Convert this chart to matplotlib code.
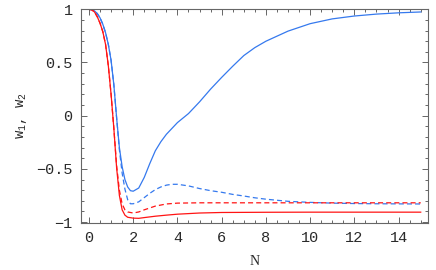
import matplotlib
matplotlib.use("Agg")
import matplotlib.pyplot as plt
from matplotlib.ticker import MultipleLocator

plt.rcParams['mathtext.fontset'] = 'custom'
plt.rcParams['mathtext.rm'] = 'Liberation Mono'
plt.rcParams['mathtext.it'] = 'Liberation Mono'

# Data
x_red = [0, 0.125, 0.25, 0.375, 0.5, 0.625, 0.75, 0.875, 1.0, 1.125, 1.25, 1.375, 1.5,
         1.625, 1.75, 2.0, 2.25, 2.5, 3.0, 3.5, 4.0, 5.0, 6.0, 8.0, 10.0, 12.0, 15.0]
red_solid = [1.0, 0.995, 0.975, 0.93, 0.87, 0.79, 0.67, 0.47, 0.20, -0.12, -0.49, -0.75, -0.885,
             -0.935, -0.955, -0.963, -0.965, -0.958, -0.945, -0.935, -0.926, -0.915, -0.91,
             -0.908, -0.907, -0.907, -0.907]
red_dashed = [1.0, 0.995, 0.975, 0.93, 0.87, 0.79, 0.67, 0.47, 0.20, -0.12, -0.47, -0.70, -0.83,
              -0.885, -0.905, -0.915, -0.905, -0.885, -0.85, -0.83, -0.822, -0.819, -0.819,
              -0.819, -0.819, -0.819, -0.819]

x_blue = [0, 0.125, 0.25, 0.375, 0.5, 0.625, 0.75, 0.875, 1.0, 1.125, 1.25, 1.375, 1.5,
          1.625, 1.75, 1.875, 2.0, 2.25, 2.5, 2.75, 3.0, 3.25, 3.5, 3.75, 4.0, 4.5, 5.0,
          5.5, 6.0, 6.5, 7.0, 7.5, 8.0, 9.0, 10.0, 11.0, 12.0, 13.0, 14.0, 15.0]
blue_solid = [1.0, 0.997, 0.985, 0.96, 0.92, 0.86, 0.78, 0.67, 0.52, 0.29, -0.02, -0.30, -0.48,
              -0.60, -0.67, -0.705, -0.71, -0.68, -0.58, -0.45, -0.33, -0.245, -0.175, -0.12,
              -0.065, 0.02, 0.13, 0.25, 0.36, 0.465, 0.565, 0.64, 0.70, 0.795, 0.865, 0.91,
              0.937, 0.955, 0.967, 0.975]
blue_dashed = [1.0, 0.997, 0.985, 0.96, 0.92, 0.86, 0.78, 0.67, 0.52, 0.29, -0.02, -0.32, -0.54,
               -0.69, -0.79, -0.828, -0.828, -0.81, -0.77, -0.73, -0.695, -0.67, -0.653, -0.645,
               -0.645, -0.66, -0.685, -0.705, -0.72, -0.74, -0.755, -0.772, -0.785, -0.805,
               -0.815, -0.822, -0.826, -0.828, -0.829, -0.83]

x_ticks = [0, 2, 4, 6, 8, 10, 12, 14]
y_ticks = [-1, -0.5, 0, 0.5, 1]
y_tick_labels = ['\u22121', '\u22120.5', '0', '0.5', '1']

BLUE = '#3579ee'
RED = '#ff1414'

fig = plt.figure(figsize=(4.36, 2.70), dpi=100)
ax = fig.add_axes([0.1858, 0.1752, 0.7959, 0.7915])

ax.plot(x_blue, blue_solid, color=BLUE, lw=0.9)
ax.plot(x_blue, blue_dashed, color=BLUE, lw=0.9, dashes=(4, 2.5))
ax.plot(x_red, red_dashed, color=RED, lw=0.9, dashes=(4, 2.5))
ax.plot(x_red, red_solid, color=RED, lw=0.9)

ax.set_xlim(-0.36, 15.33)
ax.set_ylim(-1.006, 1.003)

ax.set_xticks(x_ticks)
ax.set_xticklabels([str(t) for t in x_ticks])
ax.set_yticks(y_ticks)
ax.set_yticklabels(y_tick_labels)
ax.xaxis.set_minor_locator(MultipleLocator(0.5))
ax.yaxis.set_minor_locator(MultipleLocator(0.1))

frame = '#666666'
for s in ax.spines.values():
    s.set_color(frame)
    s.set_linewidth(0.8)
ax.tick_params(which='both', direction='in', top=True, right=True, color=frame, width=0.7)
ax.tick_params(which='major', length=4, pad=6)
ax.tick_params(which='minor', length=2)
for lab in ax.get_xticklabels() + ax.get_yticklabels():
    lab.set_family('Liberation Mono')
    lab.set_fontsize(11)
    lab.set_color('#2a2a2a')

ax.set_xlabel('N', family='Liberation Serif', fontsize=10, color='#2a2a2a', labelpad=7)
ax.set_ylabel('w$_1$, w$_2$', family='Liberation Mono', fontsize=10, color='#2a2a2a', labelpad=5)

fig.savefig('out.png', dpi=100)
